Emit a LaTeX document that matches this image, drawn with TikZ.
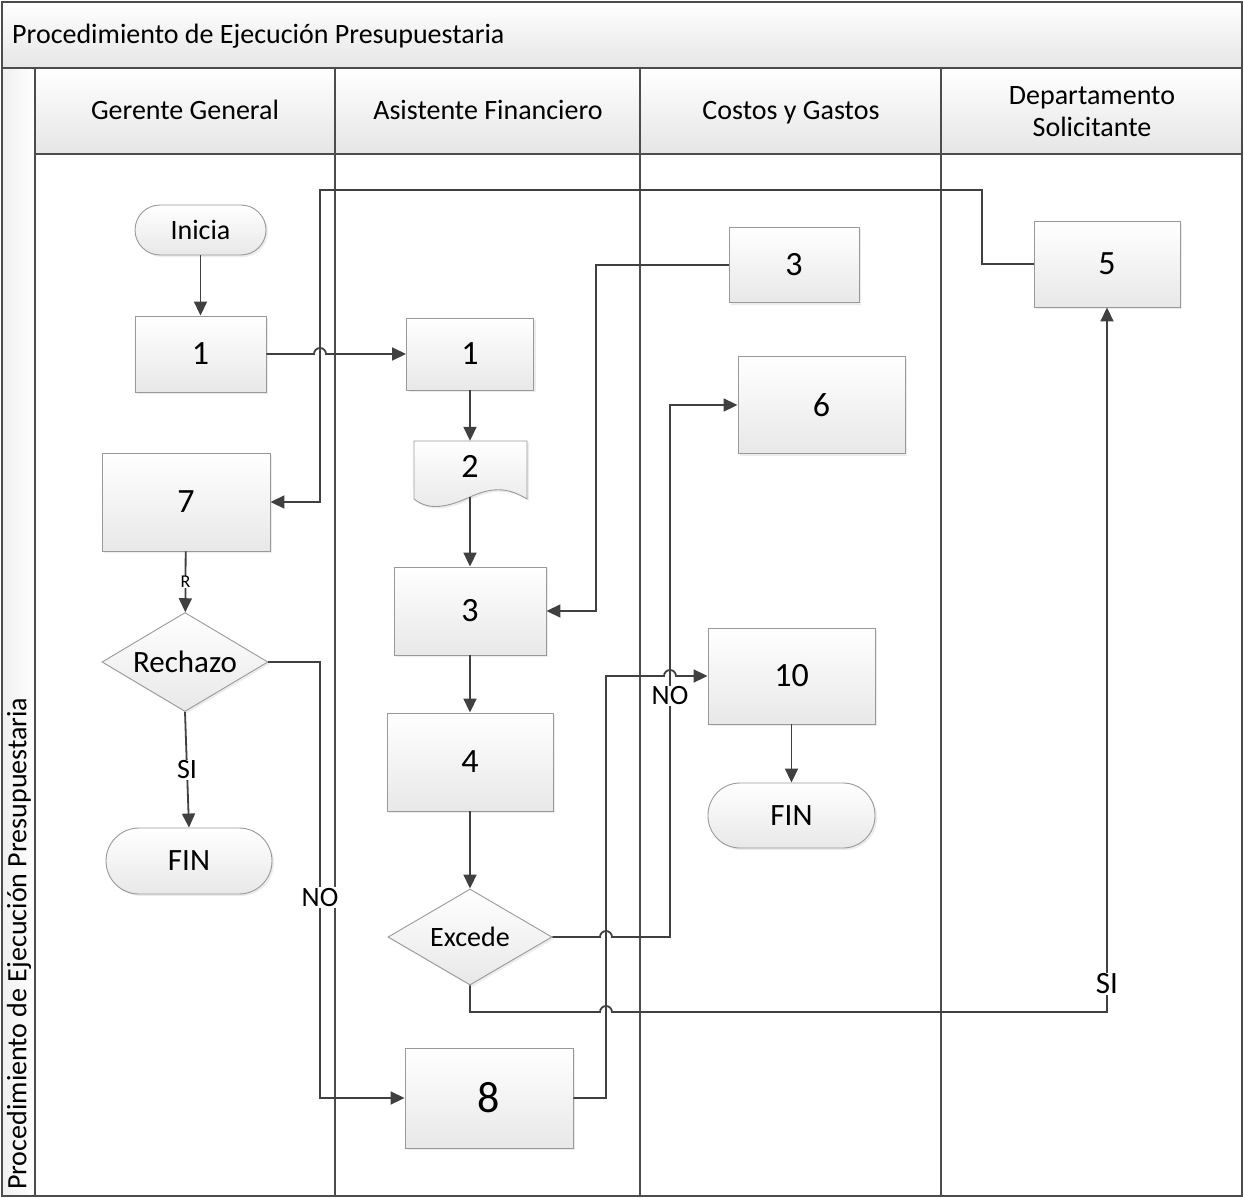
\documentclass[tikz,border=0pt]{standalone}
\usepackage{fontspec}
\setmainfont{Carlito}
\usetikzlibrary{arrows.meta,shapes.geometric,shadows}
\newcommand\fsHead{\fontsize{28}{32}\selectfont}
\newcommand\fsNum{\fontsize{34}{40}\selectfont}
\newcommand\fsBig{\fontsize{44}{50}\selectfont}
\newcommand\fsLab{\fontsize{28}{32}\selectfont}
\newcommand\fsRe{\fontsize{31}{35}\selectfont}
\newcommand\fsEx{\fontsize{28}{32}\selectfont}
\newcommand\fsTiny{\fontsize{18}{20}\selectfont}
\begin{document}
\begin{tikzpicture}[x=1pt,y=-1pt,
  lane/.style={draw=black!70,line width=1.3pt},
  hdr/.style={draw=black!70,line width=1.3pt,top color=white,bottom color=black!10},
  htext/.style={font=\fsHead,anchor=base},
  con/.style={draw=black!75,line width=1.8pt},
  arr/.style={con,-{Triangle[length=14pt,width=13pt]}},
  sz/.style 2 args={minimum width=#1pt,minimum height=#2pt},
  box/.style={draw=black!40,line width=0.9pt,top color=white,bottom color=black!9,
    drop shadow={opacity=0.15,shadow xshift=2pt,shadow yshift=-2pt},
    inner sep=0pt,font=\fsNum},
  lbl/.style={fill=white,inner sep=1pt,font=\fsLab},
]
\useasboundingbox (0,0) rectangle (1244,1198);
% ---- swimlane frame
\path[hdr] (2,2) rectangle (1242,68);
\node[anchor=west,inner sep=0pt,font=\fsHead] (title) at (12,36) {Procedimiento de Ejecución Presupuestaria};
\path[draw=black!70,line width=1.3pt,left color=black!6,right color=white] (2,68) rectangle (35,1196);
\node[rotate=90,anchor=west,inner sep=0pt,font=\fsHead] (vtitle) at (19,1190) {Procedimiento de Ejecución Presupuestaria};
\path[hdr] (35,68) rectangle (335,154);
\path[hdr] (335,68) rectangle (640,154);
\path[hdr] (640,68) rectangle (941,154);
\path[hdr] (941,68) rectangle (1242,154);
\node[htext] (h1) at (185,120) {Gerente General};
\node[htext] (h2) at (488,120) {Asistente Financiero};
\node[htext] (h3) at (791,120) {Costos y Gastos};
\node[font=\fsHead,align=center] (h4) at (1092,112) {Departamento\\Solicitante};
\draw[lane] (335,154) -- (335,1196);
\draw[lane] (640,154) -- (640,1196);
\draw[lane] (941,154) -- (941,1196);
\draw[lane] (2,2) rectangle (1242,1196);
% ---- nodes
\node[box,sz={131}{50},rounded corners=25pt,font=\fsHead] (ini) at (200.5,230) {Inicia};
\node[box,sz={131}{76}] (gg1) at (200.5,354) {1};
\node[box,sz={168}{98}] (gg7) at (186,502) {7};
\node[box,diamond,aspect=1.68,sz={166}{99},font=\fsRe] (rech) at (185,662) {Rechazo};
\node[box,sz={166}{66},rounded corners=33pt,font=\fsRe] (fin1) at (189,861) {FIN};
\node[box,sz={127}{72}] (af1) at (470,354) {1};
\path[box] (414,441) -- (527,441) -- (527,499)
  .. controls (506,486) and (490,488) .. (470,497)
  .. controls (450,506) and (430,512) .. (414,499) -- cycle;
\node[sz={113}{56},inner sep=0pt] (af2) at (470,469) {};
\node[font=\fsNum] (af2t) at (470,466) {2};
\node[box,sz={152}{88}] (af3) at (470,611) {3};
\node[box,sz={166}{98}] (af4) at (470,762) {4};
\node[box,diamond,aspect=1.7,sz={164}{96},font=\fsEx] (exc) at (470,937) {Excede};
\node[box,sz={168}{100},font=\fsBig] (af8) at (489,1098) {8};
\node[box,sz={130}{75}] (cg3) at (794,265) {3};
\node[box,sz={167}{97}] (cg6) at (821.5,405) {6};
\node[box,sz={167}{96}] (cg10) at (791.5,676) {10};
\node[box,sz={167}{65},rounded corners=32pt,font=\fsRe] (fin2) at (791.5,815.5) {FIN};
\node[box,sz={146}{86}] (ds5) at (1107,264) {5};
% ---- bend and jump points
\coordinate (jA) at (314,354);
\coordinate (bA) at (596,611);
\coordinate (jB) at (600,937);
\coordinate (bB) at (670,937);
\coordinate (bC) at (470,1012);
\coordinate (jC) at (600,1012);
\coordinate (bC2) at (1107,1012);
\coordinate (bD1) at (982,264);
\coordinate (bD2) at (982,190);
\coordinate (bD3) at (320,190);
\coordinate (bD4) at (320,502);
\coordinate (bE1) at (320,662);
\coordinate (bE2) at (320,1098);
\coordinate (bF1) at (606,1098);
\coordinate (bF2) at (606,676);
\coordinate (jF) at (664,676);
% ---- connectors
\draw[arr] (ini) -- (gg1);
\draw[arr] (gg1.east) -- (jA) arc[start angle=180,end angle=0,radius=6pt] -- (af1.west);
\draw[arr] (af1) -- (af2);
\draw[arr] (af2.south) -- (af3.north);
\draw[arr] (cg3.west) -| (bA) -- (af3.east);
\draw[arr] (af3) -- (af4);
\draw[arr] (af4) -- (exc);
\draw[arr] (exc.east) -- (jB) arc[start angle=180,end angle=0,radius=6pt] -- (bB)
  -- node[lbl,pos=0.453]{NO} (bB |- cg6.west) -- (cg6.west);
\draw[arr] (exc.south) -- (bC) -- (jC) arc[start angle=180,end angle=0,radius=6pt] -- (bC2)
  -- node[lbl,pos=0.04,font=\fsRe]{SI} (ds5.south);
\draw[arr] (ds5.west) -- (bD1) -- (bD2) -- (bD3) -- (bD4) -- (gg7.east);
\draw[arr] (gg7) -- node[lbl,inner sep=0.5pt,font=\fsTiny]{R} (rech);
\draw[arr] (rech.south) -- node[lbl]{SI} (fin1.north);
\draw[arr] (rech.east) -- (bE1) -- node[lbl,pos=0.54]{NO} (bE2) -- (af8.west);
\draw[arr] (af8.east) -- (bF1) -- (bF2) -- (jF) arc[start angle=180,end angle=0,radius=6pt] -- (cg10.west);
\draw[arr] (cg10) -- (fin2);
\end{tikzpicture}
\end{document}
